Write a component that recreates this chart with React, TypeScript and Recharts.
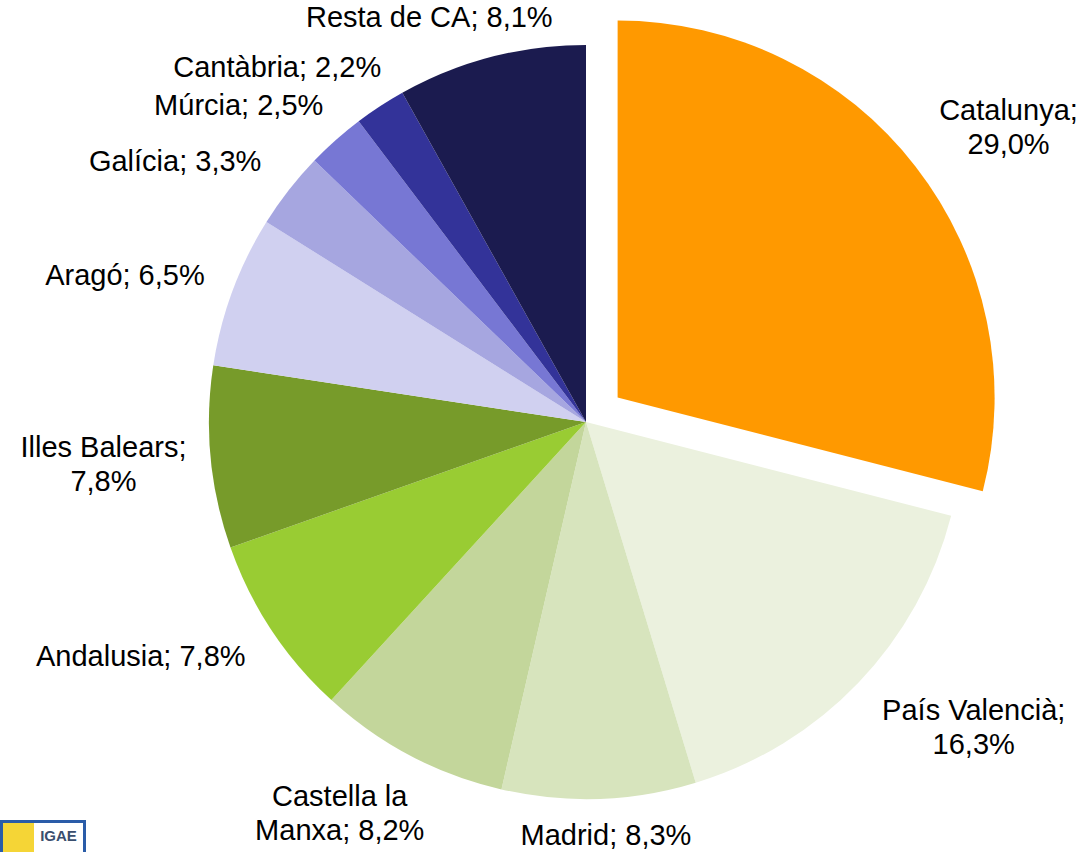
import { PieChart, Pie, Cell } from 'recharts';

const regions = [
  'Catalunya',
  'País Valencià',
  'Madrid',
  'Castella la\nManxa',
  'Andalusia',
  'Illes Balears',
  'Aragó',
  'Galícia',
  'Múrcia',
  'Cantàbria',
  'Resta de CA',
];
const shares = [29.0, 16.3, 8.3, 8.2, 7.8, 7.8, 6.5, 3.3, 2.5, 2.2, 8.1];
// value goes on its own line for these labels (as Excel wrapped them)
const valueOnNewLine = [true, true, false, false, false, true, false, false, false, false, false];
const colors = [
  '#FF9900',
  '#EBF1DE',
  '#D7E4BD',
  '#C3D69B',
  '#99CC33',
  '#779B2A',
  '#D0D0F0',
  '#A6A6E0',
  '#7777D4',
  '#333399',
  '#1B1B4F',
];

const W = 1086;
const H = 852;
const CX = 586;
const CY = 422;
const R = 377;
const EXPLODE = 0;
const EXPLODE_DIST = 40;
const FONT = 29;
const LH = 34;
const GAP = 30;
const RAD = Math.PI / 180;

const data = regions.map((name, i) => ({ name, value: shares[i] }));

function labelLinesFor(i: number): string[] {
  const pct = shares[i].toFixed(1).replace('.', ',') + '%';
  const parts = regions[i].split('\n');
  const last = parts.pop() as string;
  if (valueOnNewLine[i]) return [...parts, last + ';', pct];
  return [...parts, last + '; ' + pct];
}

// offset of the exploded slice, along its bisector
const total = shares.reduce((a, b) => a + b, 0);
const before = shares.slice(0, EXPLODE).reduce((a, b) => a + b, 0);
const explodeMid = 90 - ((before + shares[EXPLODE] / 2) / total) * 360;
const EX = EXPLODE_DIST * Math.cos(explodeMid * RAD);
const EY = -EXPLODE_DIST * Math.sin(explodeMid * RAD);

const makeLabel = (exploded: boolean) => (props: any) => {
  const { cx, cy, midAngle, outerRadius, index } = props;
  if ((index === EXPLODE) !== exploded) return null;
  const lines = labelLinesFor(index);
  const cos = Math.cos(-midAngle * RAD);
  const sin = Math.sin(-midAngle * RAD);
  const ax = cx + (outerRadius + GAP) * cos;
  const ay = cy + (outerRadius + GAP) * sin;
  const w = Math.max(...lines.map((l) => l.length)) * FONT * 0.5;
  const h = lines.length * LH;
  // push labels sideways a bit more than a plain radial offset, like Excel does
  let bx = ax + (w / 2) * cos * (2 - Math.abs(cos));
  let by = ay + (h / 2) * sin;
  bx = Math.min(Math.max(bx, w / 2 + 2), W - w / 2 - 2);
  by = Math.min(Math.max(by, h / 2), H - h / 2);
  const top = by - h / 2;
  return (
    <text
      key={'lbl' + index}
      textAnchor="middle"
      fontFamily="'Liberation Sans', Arial, sans-serif"
      fontSize={FONT}
      fill="#000"
    >
      {lines.map((l, k) => (
        <tspan key={k} x={bx} y={top + k * LH + LH * 0.8}>
          {l}
        </tspan>
      ))}
    </text>
  );
};

function Logo() {
  return (
    <div
      style={{
        position: 'absolute',
        left: 0,
        top: 820,
        width: 86,
        height: 32,
        boxSizing: 'border-box',
        border: '3px solid #2A5CA8',
        borderBottom: 'none',
        display: 'flex',
        background: '#fff',
      }}
    >
      <div style={{ width: 31, background: '#F5D536' }} />
      <div
        style={{
          flex: 1,
          textAlign: 'center',
          fontFamily: "'Liberation Sans', Arial, sans-serif",
          fontWeight: 'bold',
          fontSize: 15,
          color: '#3A4E6E',
          paddingTop: 4,
        }}
      >
        IGAE
      </div>
    </div>
  );
}

export default function App() {
  return (
    <div style={{ position: 'absolute', left: 0, top: 0, width: W, height: H, background: '#fff' }}>
      <PieChart width={W} height={H} margin={{ top: 0, right: 0, bottom: 0, left: 0 }}>
        <Pie
          data={data}
          dataKey="value"
          nameKey="name"
          cx={CX}
          cy={CY}
          outerRadius={R}
          startAngle={90}
          endAngle={-270}
          stroke="none"
          labelLine={false}
          label={makeLabel(false)}
          isAnimationActive={false}
        >
          {data.map((d, i) => (
            <Cell key={d.name} fill={i === EXPLODE ? 'transparent' : colors[i]} />
          ))}
        </Pie>
        <Pie
          data={data}
          dataKey="value"
          nameKey="name"
          cx={CX + EX}
          cy={CY + EY}
          outerRadius={R}
          startAngle={90}
          endAngle={-270}
          stroke="none"
          labelLine={false}
          label={makeLabel(true)}
          isAnimationActive={false}
        >
          {data.map((d, i) => (
            <Cell key={d.name} fill={i === EXPLODE ? colors[i] : 'transparent'} />
          ))}
        </Pie>
      </PieChart>
      <Logo />
    </div>
  );
}
